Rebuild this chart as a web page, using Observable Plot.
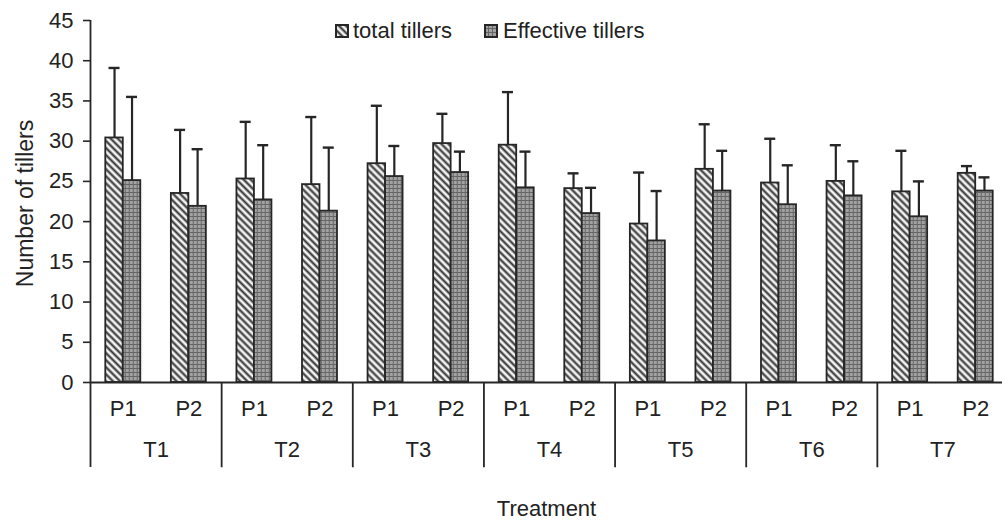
<!DOCTYPE html>
<html>
<head>
<meta charset="utf-8">
<script src="https://cdn.jsdelivr.net/npm/d3@7"></script>
<script src="https://cdn.jsdelivr.net/npm/@observablehq/plot@0.6"></script>
<style>
  html, body { margin: 0; padding: 0; background: #fff; overflow: hidden; }
  #wrap { position: relative; width: 1002px; height: 521px; font-family: "Liberation Sans", Arial, sans-serif; color: #222; }
  #legend span.sw { position: absolute; width: 14px; height: 14px; top: 24px; }
  #legend span.tx { position: absolute; top: 31px; transform: translateY(-50%); font-size: 22px; line-height: 1; white-space: nowrap; }
</style>
</head>
<body>
<svg width="0" height="0" style="position:absolute">
  <defs>
    <pattern id="hatch" width="5" height="5" patternUnits="userSpaceOnUse" patternTransform="rotate(-45)">
      <rect width="5" height="5" fill="#f2f2f2"></rect>
      <line x1="1.5" y1="0" x2="1.5" y2="5" stroke="#333" stroke-width="2.1"></line>
    </pattern>
    <pattern id="grid" width="4" height="4" patternUnits="userSpaceOnUse">
      <rect width="4" height="4" fill="#a2a2a2"></rect>
      <line x1="0" y1="0.5" x2="4" y2="0.5" stroke="#666" stroke-width="1"></line>
      <line x1="0.5" y1="0" x2="0.5" y2="4" stroke="#666" stroke-width="1"></line>
    </pattern>
  </defs>
</svg>
<div id="wrap">
  <div id="chart"></div>
  <div id="legend"></div>
</div>
<script>
// ---- data ----
const treatments = ["T1", "T2", "T3", "T4", "T5", "T6", "T7"];
const plants = ["P1", "P2"];
const seriesNames = ["total tillers", "Effective tillers"];
// order: T1P1, T1P2, T2P1, ... T7P2
const totalMean = [30.4, 23.5, 25.3, 24.6, 27.2, 29.7, 29.5, 24.1, 19.7, 26.5, 24.8, 25.0, 23.7, 26.0];
const totalUpper = [39.1, 31.4, 32.4, 33.0, 34.4, 33.4, 36.1, 26.0, 26.1, 32.1, 30.3, 29.5, 28.8, 26.9];
const effMean = [25.1, 21.9, 22.7, 21.3, 25.6, 26.1, 24.2, 21.0, 17.6, 23.8, 22.1, 23.2, 20.6, 23.8];
const effUpper = [35.5, 29.0, 29.5, 29.2, 29.4, 28.7, 28.7, 24.2, 23.8, 28.8, 27.0, 27.5, 25.0, 25.5];
const yTicks = [0, 5, 10, 15, 20, 25, 30, 35, 40, 45];

// ---- derived tables ----
const slots = [];
treatments.forEach(t => plants.forEach(p => slots.push({key: t + "-" + p, t, p})));
const keys = slots.map(d => d.key);
const totalRows = slots.map((d, i) => ({...d, value: totalMean[i], upper: totalUpper[i]}));
const effRows = slots.map((d, i) => ({...d, value: effMean[i], upper: effUpper[i]}));
const firstSlots = slots.filter(d => d.p === "P1");

const W = 1002, H = 521;
const left = 90, right = 1008;
const band = (right - left) / keys.length;
const half = band / 2;
const barW = 17.5;
const off = barW / 2;
const barInset = (band - barW) / 2;
const capInset = (band - 11) / 2;
const ink = "#262626";
const textInk = "#222";
const font = "Liberation Sans, Arial, sans-serif";

const chart = Plot.plot({
  width: W,
  height: H,
  marginLeft: left,
  marginRight: 0,
  marginTop: 20,
  marginBottom: 139,
  style: {fontFamily: font, fontSize: "22px", color: textInk, background: "white", overflow: "hidden"},
  x: {type: "band", domain: keys, range: [left, right], padding: 0, round: false, axis: null},
  y: {domain: [0, 45], axis: null},
  marks: [
    // bars
    Plot.barY(totalRows, {x: "key", y: "value", fill: "url(#hatch)", stroke: ink, strokeWidth: 1.8, insetLeft: barInset, insetRight: barInset, dx: -off}),
    Plot.barY(effRows, {x: "key", y: "value", fill: "url(#grid)", stroke: ink, strokeWidth: 1.8, insetLeft: barInset, insetRight: barInset, dx: off}),
    // error bars
    Plot.ruleX(totalRows, {x: "key", y1: "value", y2: "upper", stroke: ink, strokeWidth: 2.2, dx: -off}),
    Plot.ruleX(effRows, {x: "key", y1: "value", y2: "upper", stroke: ink, strokeWidth: 2.2, dx: off}),
    Plot.tickY(totalRows, {x: "key", y: "upper", stroke: ink, strokeWidth: 2.4, insetLeft: capInset, insetRight: capInset, dx: -off}),
    Plot.tickY(effRows, {x: "key", y: "upper", stroke: ink, strokeWidth: 2.4, insetLeft: capInset, insetRight: capInset, dx: off}),
    // x baseline
    Plot.ruleY([0], {stroke: ink, strokeWidth: 1.8}),
    // y axis
    Plot.axisY({ticks: yTicks, tickSize: 7, tickPadding: 10, fontSize: 22, label: null, stroke: ink, strokeWidth: 1.6, tickFormat: d => String(d)}),
    Plot.ruleX([keys[0]], {x: d => d, dx: -half, stroke: ink, strokeWidth: 1.8, insetBottom: -85}),
    // group separators below the axis
    Plot.ruleX(firstSlots.slice(1), {x: "key", dx: -half, y1: 0, y2: -10.6, stroke: ink, strokeWidth: 1.8}),
    // P labels
    Plot.text(slots, {x: "key", text: "p", frameAnchor: "bottom", dy: 33, fontSize: 22, fill: textInk}),
    // T labels
    Plot.text(firstSlots, {x: "key", text: "t", frameAnchor: "bottom", dx: half, dy: 74, fontSize: 22, fill: textInk}),
    // axis titles
    Plot.text(["Number of tillers"], {text: d => d, frameAnchor: "left", textAnchor: "middle", dx: -65, dy: 2, rotate: -90, fontSize: 23, fill: textInk}),
    Plot.text(["Treatment"], {text: d => d, frameAnchor: "bottom", dy: 133, fontSize: 22, fill: textInk})
  ]
});
document.getElementById("chart").appendChild(chart);

// legend overlay
const legend = document.getElementById("legend");
const legendItems = [
  {name: seriesNames[0], fill: "url(#hatch)", sx: 335, tx: 353},
  {name: seriesNames[1], fill: "url(#grid)", sx: 484, tx: 503}
];
legendItems.forEach(it => {
  const sw = document.createElement("span");
  sw.className = "sw";
  sw.style.left = it.sx + "px";
  sw.innerHTML = `<svg width="14" height="14"><rect x="1" y="1" width="12" height="12" fill="${it.fill}" stroke="${ink}" stroke-width="2"></rect></svg>`;
  legend.appendChild(sw);
  const tx = document.createElement("span");
  tx.className = "tx";
  tx.style.left = it.tx + "px";
  tx.textContent = it.name;
  legend.appendChild(tx);
});
</script>
</body>
</html>
